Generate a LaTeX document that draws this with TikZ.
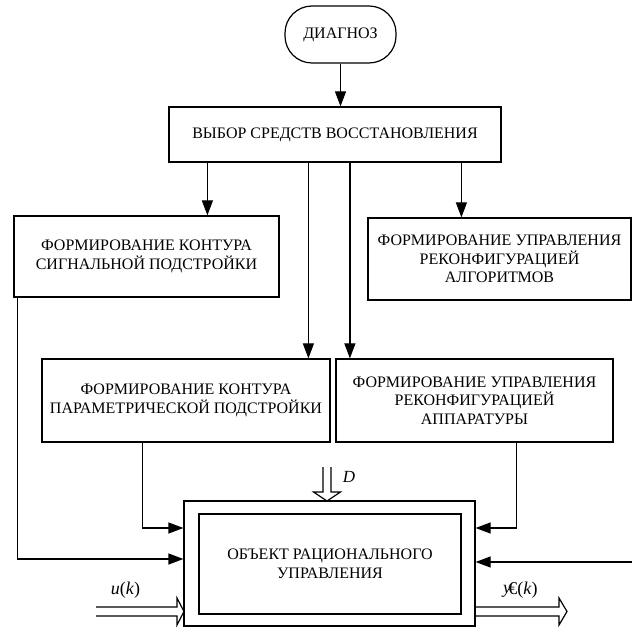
\documentclass[tikz,border=0pt]{standalone}
\usepackage{fontspec}
\setmainfont{Liberation Serif}
\usetikzlibrary{arrows.meta,calc}
\tikzset{
  box/.style={draw, line width=1.2pt, align=center, inner sep=0pt, font=\fontsize{16}{18.5}\selectfont},
  arr/.style={line width=1.2pt, -{Triangle[length=15pt,width=11pt]}},
  hollow/.style={line width=1.2pt, line join=miter},
  lbl/.style={inner sep=0pt, font=\fontsize{18}{20}\selectfont}
}
\begin{document}
\begin{tikzpicture}[x=1pt,y=-1pt]
\useasboundingbox (0,0) rectangle (632,628);
\node[box, rounded corners=27pt, minimum width=111pt, minimum height=57pt] (diag) at (340.5,34.5) {ДИАГНОЗ};
\node[box, minimum width=332pt, minimum height=55pt] (sel) at (335,134.5) {ВЫБОР СРЕДСТВ ВОССТАНОВЛЕНИЯ};
\node[box, minimum width=265pt, minimum height=81pt] (sig) at (146.5,256.5) {ФОРМИРОВАНИЕ КОНТУРА\\СИГНАЛЬНОЙ ПОДСТРОЙКИ};
\node[box, minimum width=263pt, minimum height=82pt] (alg) at (499.5,259) {ФОРМИРОВАНИЕ УПРАВЛЕНИЯ\\РЕКОНФИГУРАЦИЕЙ\\АЛГОРИТМОВ};
\node[box, minimum width=288pt, minimum height=83pt] (par) at (186,400.5) {ФОРМИРОВАНИЕ КОНТУРА\\ПАРАМЕТРИЧЕСКОЙ ПОДСТРОЙКИ};
\node[box, minimum width=277pt, minimum height=83pt] (app) at (474.5,400.5) {ФОРМИРОВАНИЕ УПРАВЛЕНИЯ\\РЕКОНФИГУРАЦИЕЙ\\АППАРАТУРЫ};
\node[box, minimum width=291pt, minimum height=125pt] (obj) at (329.5,563.5) {};
\node[box, minimum width=262pt, minimum height=100pt] (inner) at (330,564) {ОБЪЕКТ РАЦИОНАЛЬНОГО\\УПРАВЛЕНИЯ};

\draw[arr] (diag.south) -- (diag.south |- sel.north);
\draw[arr] ([xshift=39pt]sel.south west) -- ([xshift=39pt]sel.south west |- sig.north);
\draw[arr] ([xshift=140pt]sel.south west) -- ([xshift=140pt]sel.south west |- par.north);
\draw[arr] ([xshift=181.5pt]sel.south west) -- ([xshift=181.5pt]sel.south west |- app.north);
\draw[arr] ([xshift=293pt]sel.south west) -- ([xshift=293pt]sel.south west |- alg.north);

\draw[arr] ([xshift=4pt]sig.south west) |- ([yshift=4.5pt]obj.west);
\draw[arr] ([xshift=101pt]par.south west) |- ([yshift=35.5pt]obj.west);
\draw[arr] ([xshift=181pt]app.south west) |- ([yshift=35.5pt]obj.east);
\coordinate (rin) at (632,562);
\draw[arr] (rin) -- (obj.east |- rin);

% D input
\draw[hollow] (323,467) -- (323,492) -- (313.5,492) -- (327,501) -- (340.5,492) -- (331,492) -- (331,467);
\node[lbl, font=\fontsize{17}{20}\selectfont\itshape] (dl) at (349,477) {D};
% u(k) input
\draw[hollow] (96,607) -- (177,607) -- (177,598) -- (184,611.5) -- (177,625) -- (177,616) -- (96,616);
\node[lbl] (ul) at (125.5,590) {\textit{u}(\textit{k})};
% output
\draw[hollow] (475,607) -- (559,607) -- (559,598) -- (567,611.5) -- (559,625) -- (559,616) -- (475,616);
\node[lbl] (yl) at (507,591) {\textit{y}};
\node[lbl] (el) at (523,590) {€(\textit{k})};
\end{tikzpicture}
\end{document}
